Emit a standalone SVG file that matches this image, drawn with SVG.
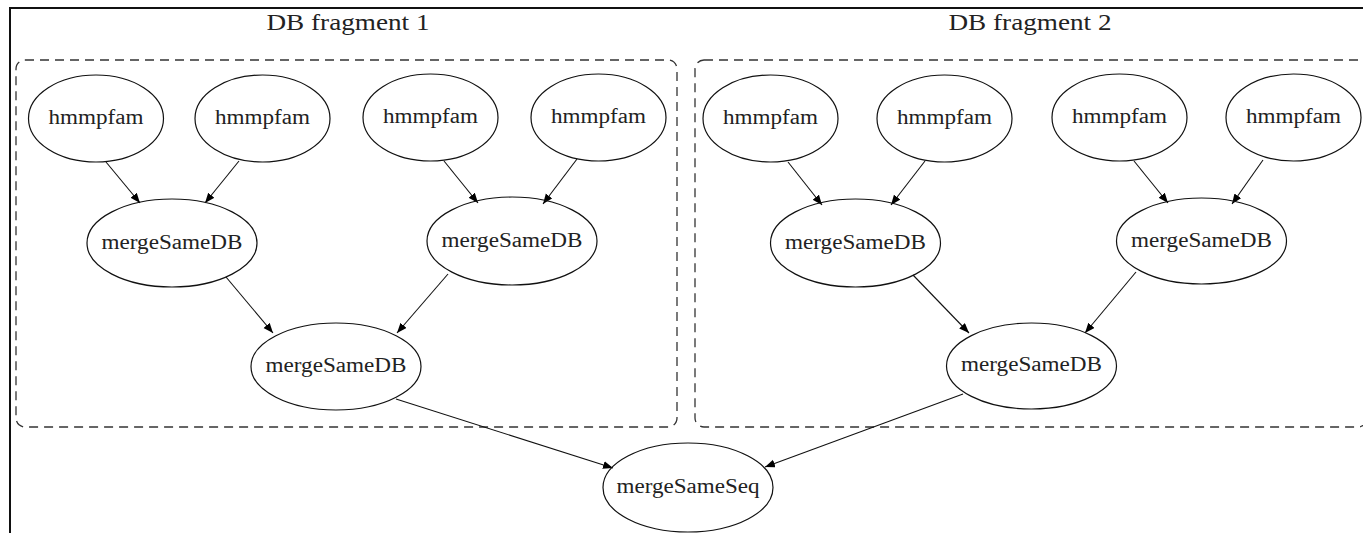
<svg xmlns="http://www.w3.org/2000/svg" width="1363" height="533" viewBox="0 0 1363 533">
  <style>
    .node ellipse { fill: none; stroke: #111; stroke-width: 1.2; }
    .node text { font-family: "Liberation Serif", "Times New Roman", serif; font-size: 20px; fill: #222; text-anchor: middle; }
    .cluster rect { fill: none; stroke: #333; stroke-width: 1.3; stroke-dasharray: 9 6; }
    .cluster text { font-family: "Liberation Serif", "Times New Roman", serif; font-size: 24px; fill: #222; text-anchor: middle; }
    .edges line { stroke: #111; stroke-width: 1.1; marker-end: url(#arrow); }
  </style>
  <defs>
    <marker id="arrow" markerUnits="userSpaceOnUse" markerWidth="12" markerHeight="10" refX="10" refY="4" orient="auto">
      <path d="M0,0 L10,4 L0,8 Z" fill="#000"/>
    </marker>
  </defs>

  <rect width="1363" height="533" fill="#fff"/>
  <!-- outer frame, continues past the right and bottom edges -->
  <rect x="10" y="8" width="1370" height="540" fill="none" stroke="#111" stroke-width="2"/>

  <!-- clusters -->
  <g id="cluster1" class="cluster">
    <rect x="16" y="60" width="661" height="367" rx="9" ry="9"/>
    <text x="348" y="30" textLength="163" lengthAdjust="spacingAndGlyphs">DB fragment 1</text>
  </g>
  <g id="cluster2" class="cluster">
    <rect x="695" y="60" width="672" height="367" rx="9" ry="9"/>
    <text x="1030" y="30" textLength="163" lengthAdjust="spacingAndGlyphs">DB fragment 2</text>
  </g>

  <!-- connectors -->
  <g id="edges" class="edges">
    <line x1="106" y1="162" x2="140" y2="203"/>
    <line x1="239" y1="161" x2="205" y2="203"/>
    <line x1="444" y1="161" x2="478" y2="203"/>
    <line x1="577" y1="159" x2="543" y2="204"/>
    <line x1="226" y1="277" x2="273" y2="333"/>
    <line x1="448" y1="274" x2="397" y2="333"/>
    <line x1="396" y1="399" x2="613" y2="468"/>

    <line x1="788" y1="162" x2="822" y2="205"/>
    <line x1="925" y1="161" x2="891" y2="205"/>
    <line x1="1134" y1="161" x2="1168" y2="203"/>
    <line x1="1263" y1="160" x2="1232" y2="204"/>
    <line x1="913" y1="275" x2="969" y2="333"/>
    <line x1="1136" y1="272" x2="1085" y2="333"/>
    <line x1="963" y1="394" x2="765" y2="467"/>
  </g>

  <!-- fragment 1 nodes -->
  <g id="hmmpfam1" class="node"><ellipse cx="96" cy="118.5" rx="67.5" ry="43.5"/><text x="96" y="123.5" textLength="95" lengthAdjust="spacingAndGlyphs">hmmpfam</text></g>
  <g id="hmmpfam2" class="node"><ellipse cx="262.5" cy="118.5" rx="67.5" ry="43.5"/><text x="262.5" y="123.5" textLength="95" lengthAdjust="spacingAndGlyphs">hmmpfam</text></g>
  <g id="hmmpfam3" class="node"><ellipse cx="430.5" cy="117.5" rx="67.5" ry="43.5"/><text x="430.5" y="122.5" textLength="95" lengthAdjust="spacingAndGlyphs">hmmpfam</text></g>
  <g id="hmmpfam4" class="node"><ellipse cx="598.5" cy="117.5" rx="67.5" ry="43.5"/><text x="598.5" y="122.5" textLength="95" lengthAdjust="spacingAndGlyphs">hmmpfam</text></g>
  <g id="mergeSameDB1" class="node"><ellipse cx="172" cy="243" rx="85" ry="44"/><text x="172" y="248.5" textLength="141" lengthAdjust="spacingAndGlyphs">mergeSameDB</text></g>
  <g id="mergeSameDB2" class="node"><ellipse cx="512" cy="241" rx="85" ry="44"/><text x="512" y="246.5" textLength="141" lengthAdjust="spacingAndGlyphs">mergeSameDB</text></g>
  <g id="mergeSameDB3" class="node"><ellipse cx="336" cy="366.5" rx="85" ry="43.5"/><text x="336" y="371.5" textLength="141" lengthAdjust="spacingAndGlyphs">mergeSameDB</text></g>

  <!-- fragment 2 nodes -->
  <g id="hmmpfam5" class="node"><ellipse cx="770.5" cy="118.5" rx="67.5" ry="43.5"/><text x="770.5" y="123.5" textLength="95" lengthAdjust="spacingAndGlyphs">hmmpfam</text></g>
  <g id="hmmpfam6" class="node"><ellipse cx="944.5" cy="118.5" rx="67.5" ry="43.5"/><text x="944.5" y="123.5" textLength="95" lengthAdjust="spacingAndGlyphs">hmmpfam</text></g>
  <g id="hmmpfam7" class="node"><ellipse cx="1119.5" cy="117.5" rx="67.5" ry="43.5"/><text x="1119.5" y="122.5" textLength="95" lengthAdjust="spacingAndGlyphs">hmmpfam</text></g>
  <g id="hmmpfam8" class="node"><ellipse cx="1293.5" cy="117.5" rx="67.5" ry="43.5"/><text x="1293.5" y="122.5" textLength="95" lengthAdjust="spacingAndGlyphs">hmmpfam</text></g>
  <g id="mergeSameDB4" class="node"><ellipse cx="855.5" cy="243" rx="85" ry="44"/><text x="855.5" y="248.5" textLength="141" lengthAdjust="spacingAndGlyphs">mergeSameDB</text></g>
  <g id="mergeSameDB5" class="node"><ellipse cx="1201.5" cy="241" rx="85" ry="43"/><text x="1201.5" y="246.5" textLength="141" lengthAdjust="spacingAndGlyphs">mergeSameDB</text></g>
  <g id="mergeSameDB6" class="node"><ellipse cx="1031.5" cy="366" rx="85" ry="43"/><text x="1031.5" y="371" textLength="141" lengthAdjust="spacingAndGlyphs">mergeSameDB</text></g>

  <!-- final merge -->
  <g id="mergeSameSeq" class="node"><ellipse cx="688" cy="487.5" rx="85" ry="44.5"/><text x="688" y="492.5" textLength="143" lengthAdjust="spacingAndGlyphs">mergeSameSeq</text></g>
</svg>
